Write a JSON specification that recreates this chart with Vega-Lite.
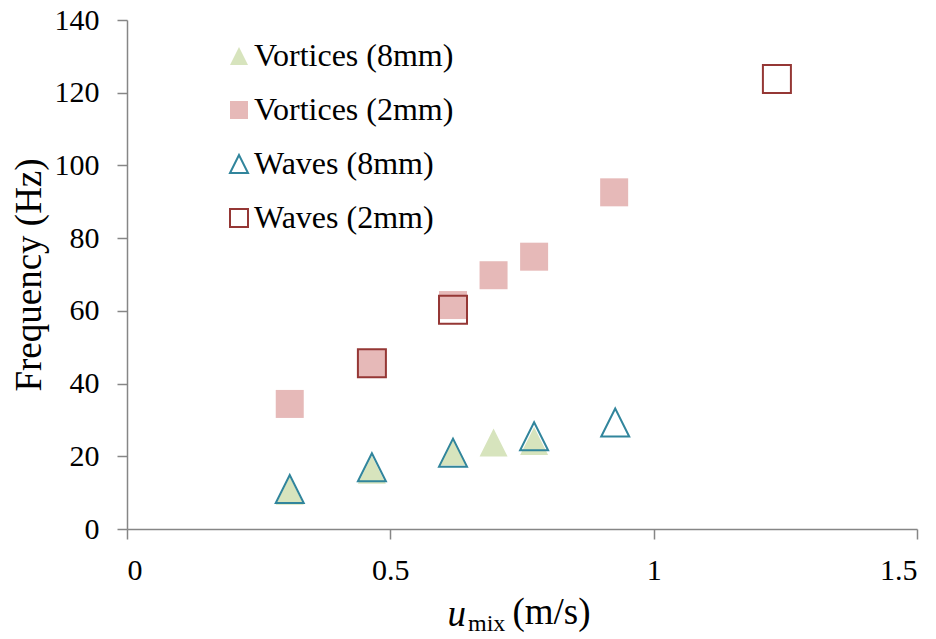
{
  "$schema": "https://vega.github.io/schema/vega-lite/v6.json",
  "autosize": {"type": "none"},
  "width": 790,
  "height": 509,
  "padding": {"left": 127, "top": 20, "right": 19, "bottom": 110},
  "background": "white",
  "title": {
    "text": "\u200b\u2003\u2009(m/s)",
    "subtitle": "mix",
    "orient": "bottom",
    "anchor": "start",
    "frame": "group",
    "align": "left",
    "dx": 341,
    "offset": -37,
    "font": "Liberation Serif",
    "fontSize": 37,
    "fontWeight": "normal",
    "color": "black",
    "subtitleFont": "Liberation Serif",
    "subtitleFontSize": 24,
    "subtitleColor": "black",
    "subtitlePadding": -20
  },
  "config": {
    "view": {"stroke": null},
    "axis": {
      "domainColor": "#868686",
      "tickColor": "#868686",
      "domainWidth": 1.5,
      "tickWidth": 1.5,
      "grid": false,
      "labelColor": "black",
      "titleColor": "black",
      "titleFontWeight": "normal",
      "tickSize": 10
    }
  },
  "data": {
    "values": [
      {"series": "Vortices (8mm)", "u": 0.309, "f": 10.5},
      {"series": "Vortices (8mm)", "u": 0.465, "f": 16.3},
      {"series": "Vortices (8mm)", "u": 0.619, "f": 21.3},
      {"series": "Vortices (8mm)", "u": 0.696, "f": 23.8},
      {"series": "Vortices (8mm)", "u": 0.773, "f": 24.2},
      {"series": "Vortices (2mm)", "u": 0.309, "f": 34.4},
      {"series": "Vortices (2mm)", "u": 0.465, "f": 45.6},
      {"series": "Vortices (2mm)", "u": 0.619, "f": 61.6},
      {"series": "Vortices (2mm)", "u": 0.696, "f": 69.8},
      {"series": "Vortices (2mm)", "u": 0.773, "f": 74.9},
      {"series": "Vortices (2mm)", "u": 0.925, "f": 92.6},
      {"series": "Waves (8mm)", "u": 0.309, "f": 11.0},
      {"series": "Waves (8mm)", "u": 0.465, "f": 17.0},
      {"series": "Waves (8mm)", "u": 0.619, "f": 21.0},
      {"series": "Waves (8mm)", "u": 0.773, "f": 25.5},
      {"series": "Waves (8mm)", "u": 0.927, "f": 29.3},
      {"series": "Waves (2mm)", "u": 0.465, "f": 45.6},
      {"series": "Waves (2mm)", "u": 0.619, "f": 60.3},
      {"series": "Waves (2mm)", "u": 1.234, "f": 123.8}
    ]
  },
  "mark": {"type": "point", "size": 784, "strokeWidth": 2, "opacity": 1},
  "encoding": {
    "x": {
      "field": "u",
      "type": "quantitative",
      "scale": {"domain": [0, 1.5], "nice": false, "zero": false},
      "axis": {
        "values": [0, 0.5, 1, 1.5],
        "format": "~g",
        "labelFont": "Liberation Serif",
        "labelFontSize": 30,
        "labelPadding": 16,
        "title": "u",
        "titleFont": "Liberation Serif",
        "titleFontSize": 37,
        "titleFontStyle": "italic",
        "titleAlign": "left",
        "titleAnchor": "start",
        "titleX": 320,
        "titlePadding": 11
      }
    },
    "y": {
      "field": "f",
      "type": "quantitative",
      "scale": {"domain": [0, 140], "nice": false},
      "axis": {
        "values": [0, 20, 40, 60, 80, 100, 120, 140],
        "labelFont": "Liberation Serif",
        "labelFontSize": 30,
        "labelPadding": 18,
        "title": "Frequency (Hz)",
        "titleFont": "Liberation Serif",
        "titleFontSize": 37,
        "titlePadding": 6
      }
    },
    "shape": {
      "field": "series",
      "type": "nominal",
      "sort": ["Vortices (8mm)", "Vortices (2mm)", "Waves (8mm)", "Waves (2mm)"],
      "scale": {
        "domain": ["Vortices (8mm)", "Vortices (2mm)", "Waves (8mm)", "Waves (2mm)"],
        "range": ["M0,-1L-1,1L1,1Z", "square", "M0,-1L-1,1L1,1Z", "square"]
      },
      "legend": {
        "title": null,
        "orient": "none",
        "legendX": 96,
        "legendY": 20,
        "labelFont": "Liberation Serif",
        "labelFontSize": 32,
        "labelColor": "black",
        "labelLimit": 500,
        "symbolSize": 324,
        "symbolStrokeWidth": 2,
        "rowPadding": 22,
        "labelOffset": -1
      }
    },
    "fill": {
      "field": "series",
      "type": "nominal",
      "scale": {
        "domain": ["Vortices (8mm)", "Vortices (2mm)", "Waves (8mm)", "Waves (2mm)"],
        "range": ["#d7e4bd", "#e6b9b8", "transparent", "transparent"]
      },
      "legend": {
        "title": null,
        "orient": "none",
        "legendX": 96,
        "legendY": 20,
        "labelFont": "Liberation Serif",
        "labelFontSize": 32,
        "labelColor": "black",
        "labelLimit": 500,
        "symbolSize": 324,
        "symbolStrokeWidth": 2,
        "rowPadding": 22,
        "labelOffset": -1
      }
    },
    "stroke": {
      "field": "series",
      "type": "nominal",
      "scale": {
        "domain": ["Vortices (8mm)", "Vortices (2mm)", "Waves (8mm)", "Waves (2mm)"],
        "range": ["transparent", "transparent", "#31859c", "#953735"]
      },
      "legend": {
        "title": null,
        "orient": "none",
        "legendX": 96,
        "legendY": 20,
        "labelFont": "Liberation Serif",
        "labelFontSize": 32,
        "labelColor": "black",
        "labelLimit": 500,
        "symbolSize": 324,
        "symbolStrokeWidth": 2,
        "rowPadding": 22,
        "labelOffset": -1
      }
    }
  }
}
